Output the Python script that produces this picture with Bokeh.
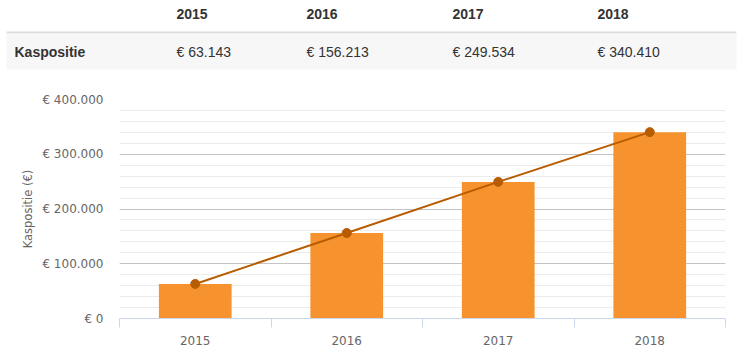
from bokeh.plotting import figure
from bokeh.models import Range1d, FixedTicker, ColumnDataSource
from bokeh.layouts import column
from bokeh.core.properties import value
from bokeh.embed import file_html
from bokeh.resources import INLINE

# ---- data ----
years = ["2015", "2016", "2017", "2018"]
kaspositie = [63143, 156213, 249534, 340410]
row_label = "Kaspositie"
y_ticks = [0, 100000, 200000, 300000, 400000]
y_tick_labels = ["€ 0", "€ 100.000", "€ 200.000", "€ 300.000", "€ 400.000"]
y_minor_ticks = list(range(0, 400001, 20000))
y_title = "Kaspositie (€)"

W = 744
TABLE_H = 70
CHART_H = 286

def euro(v):
    return "€ " + f"{v:,}".replace(",", ".")

# ---- table (drawn as a figure, pixel coordinates) ----
t = figure(width=W, height=TABLE_H, output_backend="svg", toolbar_location=None,
           x_range=Range1d(0, W), y_range=Range1d(TABLE_H, 0),
           min_border=0, outline_line_color=None)
t.frame_align = False
t.axis.visible = False
t.grid.visible = False
t.background_fill_color = "white"
t.border_fill_color = "white"

col_x = [176, 306, 452, 597]  # layout: column left edges
t.quad(left=[6], right=[736], top=[31], bottom=[33], fill_color="#dddddd", line_color=None)
t.quad(left=[6], right=[736], top=[33], bottom=[69], fill_color="#f7f7f7", line_color=None)

tsrc = ColumnDataSource(dict(x=col_x, year=years, val=[euro(v) for v in kaspositie]))
t.text(x="x", y=13.3, text="year", source=tsrc, text_font=value("Liberation Sans"),
       text_font_size="14px", text_font_style="bold", text_color="#333333",
       text_baseline="middle", text_align="left")
t.text(x="x", y=51, text="val", source=tsrc, text_font=value("Liberation Sans"),
       text_font_size="14px", text_color="#333333",
       text_baseline="middle", text_align="left")
t.text(x=[14], y=[51], text=[row_label], text_font=value("Liberation Sans"),
       text_font_size="14px", text_font_style="bold", text_color="#333333",
       text_baseline="middle", text_align="left")

# ---- chart ----
n = len(years)
xs = [i + 0.5 for i in range(n)]
src = ColumnDataSource(dict(x=xs, y=kaspositie))

p = figure(width=W, height=CHART_H, output_backend="svg", toolbar_location=None,
           x_range=Range1d(0, n), y_range=Range1d(0, 400000),
           min_border_left=119, min_border_right=W - 119 - 606,
           min_border_top=29, min_border_bottom=CHART_H - 29 - 219,
           outline_line_color=None)
p.frame_align = False
p.background_fill_color = "white"
p.border_fill_color = "white"

# y axis
p.yaxis.ticker = FixedTicker(ticks=y_ticks, minor_ticks=y_minor_ticks)
p.yaxis.major_label_overrides = {t_: l for t_, l in zip(y_ticks, y_tick_labels)}
p.yaxis.axis_line_color = None
p.yaxis.major_tick_line_color = None
p.yaxis.minor_tick_line_color = None
p.yaxis.major_tick_out = 0
p.yaxis.major_label_standoff = 12
p.yaxis.major_label_text_font = "DejaVu Sans"
p.yaxis.major_label_text_font_size = "12px"
p.yaxis.major_label_text_color = "#666666"
p.yaxis.axis_label = y_title
p.yaxis.axis_label_text_font = "DejaVu Sans"
p.yaxis.axis_label_text_font_size = "11.5px"
p.yaxis.axis_label_text_font_style = "normal"
p.yaxis.axis_label_text_color = "#666666"
p.yaxis.axis_label_standoff = 4

# x axis
p.xaxis.ticker = FixedTicker(ticks=xs, minor_ticks=list(range(n + 1)))
p.xaxis.major_label_overrides = {x_: y_ for x_, y_ in zip(xs, years)}
p.xaxis.axis_line_color = "#ccd6eb"
p.xaxis.major_tick_line_color = None
p.xaxis.minor_tick_line_color = "#ccd6eb"
p.xaxis.minor_tick_in = 0
p.xaxis.minor_tick_out = 9
p.xaxis.major_tick_out = 0
p.xaxis.major_tick_in = 0
p.xaxis.major_label_standoff = 8
p.xaxis.major_label_text_font = "DejaVu Sans"
p.xaxis.major_label_text_font_size = "12px"
p.xaxis.major_label_text_color = "#666666"

# grids
p.xgrid.grid_line_color = None
p.ygrid.grid_line_color = "#c4c4c4"
p.ygrid.minor_grid_line_color = "#ebebeb"

p.vbar(x="x", top="y", width=0.48, source=src, fill_color="#f6932f", line_color=None)
p.line(x="x", y="y", source=src, line_color="#b85c00", line_width=2)
p.scatter(x="x", y="y", source=src, size=9, fill_color="#b85c00", line_color="#b85c00")

layout = column(t, p, spacing=0)
open("out.html", "w").write(file_html(layout, INLINE))
